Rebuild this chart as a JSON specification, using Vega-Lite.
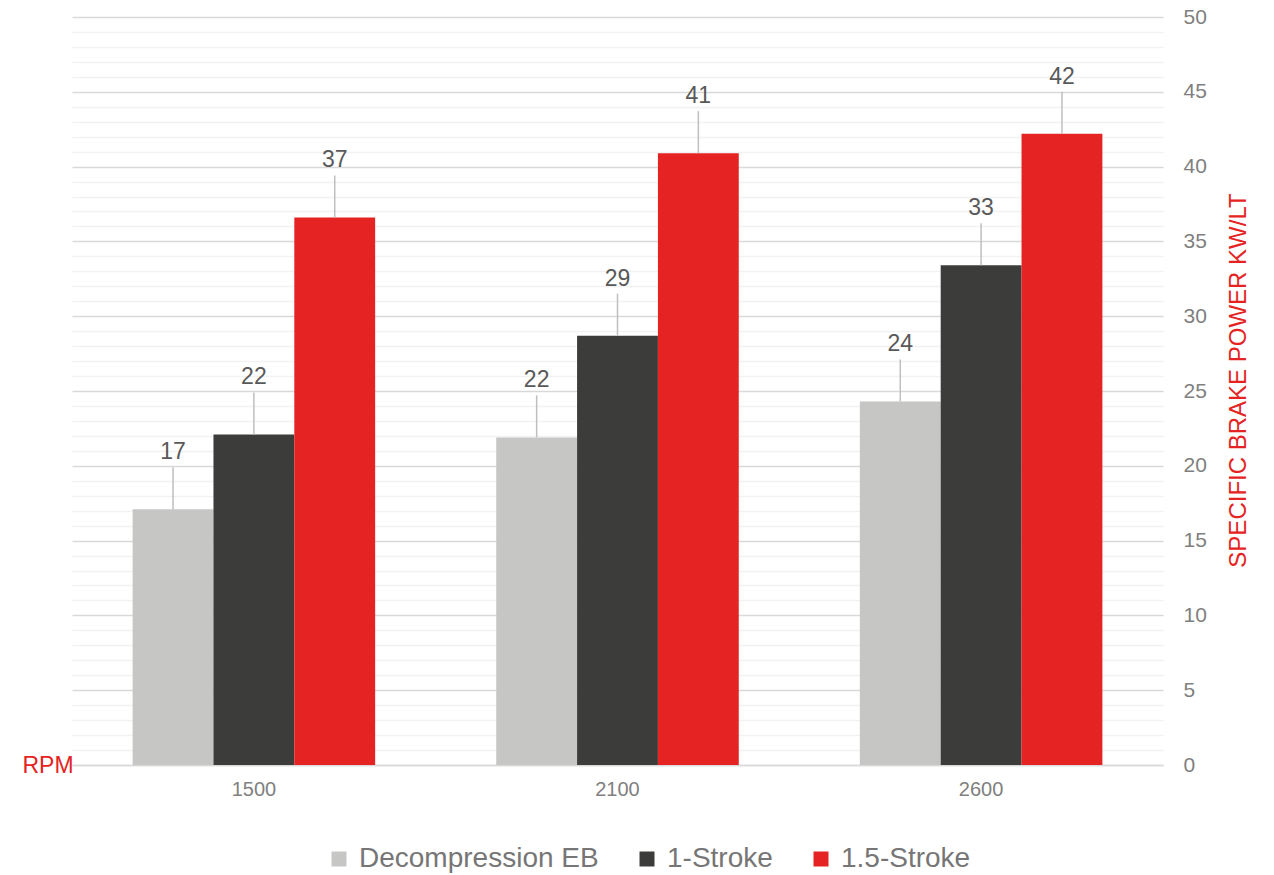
{
  "$schema": "https://vega.github.io/schema/vega-lite/v6.json",
  "width": 1091,
  "height": 748,
  "autosize": {"type": "none"},
  "padding": {"left": 72, "top": 17, "right": 111, "bottom": 110},
  "config": {
    "font": "Liberation Sans",
    "view": {"stroke": null}
  },
  "data": {
    "values": [
      {"rpm": "1500", "series": "Decompression EB", "value": 17.1},
      {"rpm": "1500", "series": "1-Stroke", "value": 22.1},
      {"rpm": "1500", "series": "1.5-Stroke", "value": 36.6},
      {"rpm": "2100", "series": "Decompression EB", "value": 21.9},
      {"rpm": "2100", "series": "1-Stroke", "value": 28.7},
      {"rpm": "2100", "series": "1.5-Stroke", "value": 40.9},
      {"rpm": "2600", "series": "Decompression EB", "value": 24.3},
      {"rpm": "2600", "series": "1-Stroke", "value": 33.4},
      {"rpm": "2600", "series": "1.5-Stroke", "value": 42.2}
    ]
  },
  "encoding": {
    "x": {
      "field": "rpm",
      "type": "nominal",
      "sort": ["1500", "2100", "2600"],
      "scale": {"paddingInner": 0.333, "paddingOuter": 0.1667},
      "axis": {
        "title": "RPM",
        "titleColor": "#e42322",
        "titleFontSize": 23,
        "titleFontWeight": "normal",
        "titleX": -50,
        "titleY": 0,
        "titleAlign": "left",
        "titleBaseline": "middle",
        "titleAngle": 0,
        "labelAngle": 0,
        "labelFontSize": 20,
        "labelColor": "#808080",
        "labelPadding": 14,
        "ticks": false,
        "domain": true,
        "domainColor": "#d9d9d9",
        "domainWidth": 1.5,
        "grid": false
      }
    },
    "xOffset": {
      "field": "series",
      "type": "nominal",
      "sort": ["Decompression EB", "1-Stroke", "1.5-Stroke"],
      "scale": {"paddingInner": 0, "paddingOuter": 0}
    },
    "y": {
      "field": "value",
      "type": "quantitative",
      "scale": {"domain": [0, 50], "nice": false},
      "axis": {
        "orient": "right",
        "title": "SPECIFIC BRAKE POWER KW/LT",
        "titleColor": "#e42322",
        "titleFontSize": 24,
        "titleFontWeight": "normal",
        "titleAngle": 270,
        "titlePadding": 44,
        "titleY": 363,
        "values": [0,1,2,3,4,5,6,7,8,9,10,11,12,13,14,15,16,17,18,19,20,21,22,23,24,25,26,27,28,29,30,31,32,33,34,35,36,37,38,39,40,41,42,43,44,45,46,47,48,49,50],
        "labelExpr": "datum.value % 5 === 0 ? datum.label : ''",
        "labelFontSize": 21,
        "labelColor": "#808080",
        "labelPadding": 20,
        "labelAlign": "left",
        "ticks": false,
        "domain": false,
        "grid": true,
        "gridColor": {"condition": {"test": "datum.value % 5 === 0", "value": "#d9d9d9"}, "value": "#f2f2f2"},
        "gridWidth": 1.5,
        "zindex": 0
      }
    }
  },
  "layer": [
    {
      "mark": {"type": "bar"},
      "encoding": {
        "color": {
          "field": "series",
          "type": "nominal",
          "sort": ["Decompression EB", "1-Stroke", "1.5-Stroke"],
          "scale": {
            "domain": ["Decompression EB", "1-Stroke", "1.5-Stroke"],
            "range": ["#c6c6c5", "#3c3c3b", "#e42322"]
          },
          "legend": {
            "title": null,
            "orient": "none",
            "direction": "horizontal",
            "legendX": 253,
            "legendY": 828,
            "symbolType": "square",
            "symbolSize": 225,
            "symbolStrokeWidth": 0,
            "labelFontSize": 28,
            "labelColor": "#767676",
            "labelOffset": 6,
            "labelLimit": 400,
            "columnPadding": 34
          }
        }
      }
    },
    {
      "mark": {"type": "rule", "color": "#bfbfbf", "strokeWidth": 1.5, "y2Offset": -42},
      "encoding": {
        "y2": {"field": "value"}
      }
    },
    {
      "mark": {"type": "text", "fontSize": 23, "color": "#595959", "yOffset": -57, "baseline": "middle"},
      "encoding": {
        "text": {"field": "value", "type": "quantitative", "format": ".0f"}
      }
    }
  ]
}
